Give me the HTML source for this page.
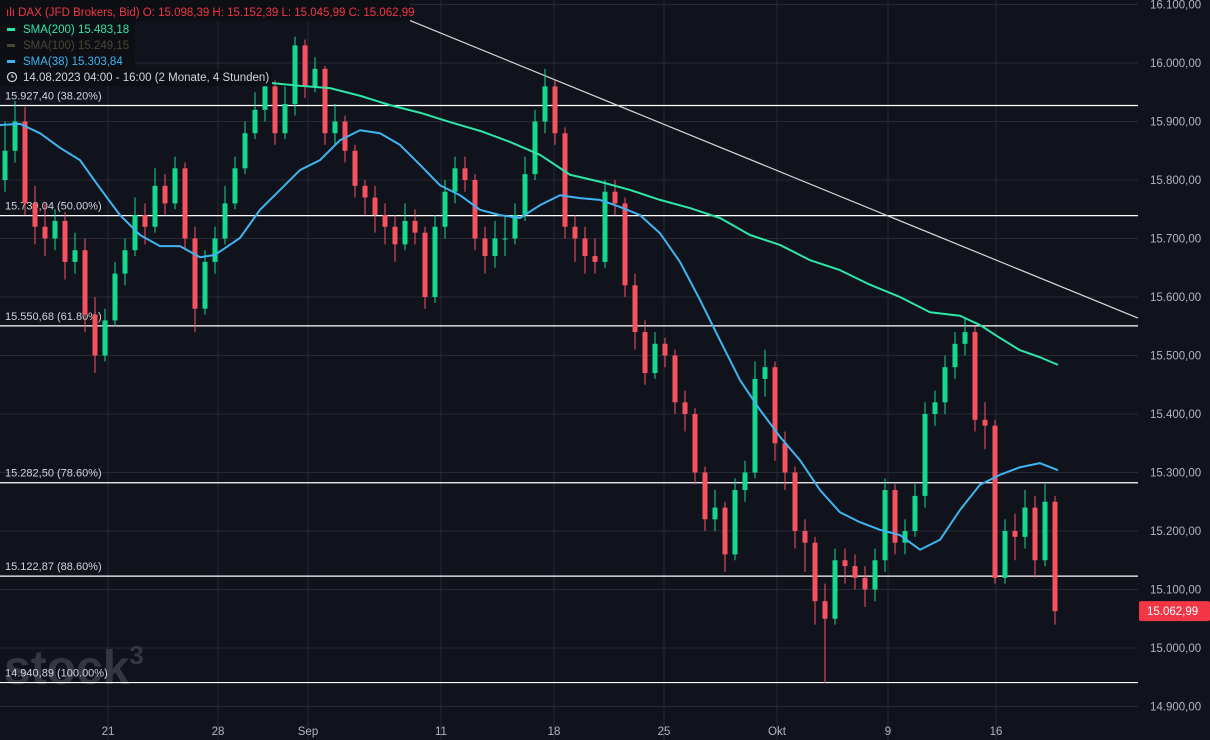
<!DOCTYPE html>
<html><head><meta charset="utf-8">
<style>
body{margin:0;background:#10131b;overflow:hidden}
svg{display:block;font-family:"Liberation Sans",sans-serif}
</style></head>
<body>
<svg id="c" width="1210" height="740" xmlns="http://www.w3.org/2000/svg">
<rect width="1210" height="740" fill="#10131b"/>
<g id="grid"></g>
<text x="4" y="684" font-size="48" fill="#34373f" font-weight="bold">stock<tspan font-size="26" dy="-20">3</tspan></text>
<g id="fib"></g>
<g id="marks"></g>
<g id="lines"></g>
<g id="axis"></g>
<g font-size="11.5">
<rect x="0" y="0" width="410" height="21" fill="#0d0f15"/>
<rect x="0" y="21" width="135" height="48" fill="#0d0f15"/>
<rect x="0" y="69" width="272" height="17" fill="#0d0f15"/>
<text x="6" y="16" fill="#f23645">ılı DAX (JFD Brokers, Bid)  O: 15.098,39  H: 15.152,39  L: 15.045,99  C: 15.062,99</text>
<rect x="7" y="28" width="8" height="3" fill="#2ee6a6"/>
<text x="23" y="33" fill="#2ee6a6">SMA(200)  15.483,18</text>
<rect x="7" y="44" width="8" height="3" fill="#4a4636"/>
<text x="23" y="49" fill="#4a4636">SMA(100)  15.249,15</text>
<rect x="7" y="60" width="8" height="3" fill="#3fb4f0"/>
<text x="23" y="65" fill="#3fb4f0">SMA(38)  15.303,84</text>
<circle cx="12" cy="77" r="4.5" fill="none" stroke="#d1d4dc" stroke-width="1.2"/>
<path d="M12 74.5V77h2" fill="none" stroke="#d1d4dc" stroke-width="1.1"/>
<text x="23" y="81" fill="#d1d4dc">14.08.2023 04:00 - 16:00   (2 Monate, 4 Stunden)</text>
</g>
</svg>
<script>
const closes=[15850,15900,15760,15720,15700,15730,15660,15680,15570,15500,15560,15640,15680,15740,15720,15790,15760,15820,15700,15580,15660,15700,15760,15820,15880,15920,15960,15880,15930,16030,15960,15990,15880,15900,15850,15790,15770,15740,15720,15690,15730,15710,15600,15720,15780,15820,15800,15700,15670,15700,15700,15740,15810,15900,15960,15880,15720,15700,15670,15660,15780,15760,15620,15540,15470,15520,15500,15420,15400,15300,15220,15240,15160,15270,15300,15460,15480,15350,15300,15200,15180,15080,15050,15150,15140,15120,15100,15150,15270,15180,15200,15260,15400,15420,15480,15520,15540,15390,15380,15120,15200,15190,15240,15150,15250,15063];
const highs=[15900,15935,15925,15790,15760,15750,15745,15710,15700,15600,15580,15660,15700,15770,15760,15820,15810,15840,15830,15720,15680,15720,15790,15840,15900,15950,15975,15970,15960,16045,16040,16010,15995,15930,15910,15860,15800,15790,15760,15740,15760,15750,15720,15740,15800,15840,15840,15810,15720,15730,15740,15760,15840,15920,15990,15970,15890,15740,15720,15700,15800,15800,15770,15640,15560,15540,15530,15510,15440,15410,15310,15270,15250,15290,15320,15490,15510,15490,15370,15310,15220,15190,15110,15170,15170,15160,15140,15170,15290,15280,15220,15280,15420,15440,15500,15540,15565,15550,15420,15390,15220,15230,15270,15260,15280,15260];
const lows=[15780,15830,15740,15690,15670,15680,15630,15640,15540,15470,15490,15550,15620,15670,15690,15710,15740,15750,15680,15540,15570,15640,15690,15750,15810,15870,15900,15860,15870,15910,15940,15950,15860,15860,15830,15770,15740,15710,15690,15660,15680,15690,15580,15590,15700,15760,15780,15680,15640,15650,15670,15690,15730,15800,15880,15860,15700,15660,15640,15640,15650,15740,15600,15510,15450,15460,15480,15400,15370,15280,15200,15200,15130,15150,15250,15290,15430,15320,15270,15170,15130,15040,14940,15040,15110,15100,15070,15080,15130,15160,15160,15190,15240,15380,15400,15460,15500,15370,15340,15110,15110,15150,15170,15120,15140,15040];
const sma38X=[0,20,40,60,80,100,120,140,160,180,200,215,240,260,280,300,320,340,360,380,400,420,440,460,480,500,520,540,560,580,600,620,640,660,680,700,720,740,760,780,800,820,840,860,880,900,920,940,960,980,1000,1020,1040,1058];
const sma38=[15894,15896,15880,15855,15834,15786,15740,15706,15687,15687,15668,15672,15701,15749,15783,15817,15834,15868,15885,15880,15860,15826,15791,15774,15749,15740,15735,15757,15774,15769,15766,15754,15740,15709,15660,15595,15526,15458,15407,15361,15321,15270,15232,15215,15202,15193,15168,15185,15236,15279,15296,15309,15316,15304];
const sma200X=[270,300,330,360,390,420,450,480,510,540,570,600,630,660,690,720,750,780,810,840,870,900,930,960,980,1000,1020,1040,1058];
const sma200=[15966,15961,15957,15944,15928,15915,15899,15884,15865,15843,15809,15797,15783,15766,15752,15735,15706,15689,15663,15646,15621,15600,15574,15568,15552,15530,15509,15497,15484];
const fibLevels=[15927.40,15739.04,15550.68,15282.50,15122.87,14940.89];
const fibLabels=["15.927,40 (38.20%)","15.739,04 (50.00%)","15.550,68 (61.80%)","15.282,50 (78.60%)","15.122,87 (88.60%)","14.940,89 (100.00%)"];
const priceTicks=[16100,16000,15900,15800,15700,15600,15500,15400,15300,15200,15100,15000,14900];
const priceTickLabels=["16.100,00","16.000,00","15.900,00","15.800,00","15.700,00","15.600,00","15.500,00","15.400,00","15.300,00","15.200,00","15.100,00","15.000,00","14.900,00"];
const dateTickX=[108,218,308,441,554,664,777,888,996];
const dateTickLabels=["21","28","Sep","11","18","25","Okt","9","16"];
const trendStart=[16090,385], trendEnd=[15564,1138];
const lastPrice=15062.99, lastLabel="15.062,99";

const NS="http://www.w3.org/2000/svg";
const y=v=>648-(v-15000)*0.585;
const x=i=>5+i*10;
function mk(tag,attrs,parent){const e=document.createElementNS(NS,tag);for(const k in attrs)e.setAttribute(k,attrs[k]);parent.appendChild(e);return e;}
const grid=document.getElementById('grid'),fib=document.getElementById('fib'),marks=document.getElementById('marks'),lines=document.getElementById('lines'),axis=document.getElementById('axis');
priceTicks.forEach((p,i)=>{
 const l=mk('line',{x1:0,x2:1138,y1:y(p),y2:y(p),stroke:'#262a34','stroke-width':1},grid);
 
 
 const t=mk('text',{x:1150,y:y(p)+4,'font-size':11.5,fill:'#b2b5be'},axis);
 t.textContent=priceTickLabels[i];
 
 
});
dateTickX.forEach((dx,i)=>{
 const l=mk('line',{x1:dx,x2:dx,y1:0,y2:740,stroke:'#262a34','stroke-width':1},grid);
 
 
 const t=mk('text',{x:dx,y:735,'font-size':11.5,fill:'#b2b5be','text-anchor':'middle'},axis);
 t.textContent=dateTickLabels[i];
 
 
});
fibLevels.forEach((f,i)=>{
 const l=mk('line',{x1:0,x2:1138,y1:y(f),y2:y(f),stroke:'#ffffff','stroke-width':1.2},fib);
 
 
 const t=mk('text',{x:5,y:y(f)-6,'font-size':11,fill:'#d1d4dc'},fib);
 t.textContent=fibLabels[i];
 
 
});
const tl=mk('line',{x1:trendStart[1],y1:y(trendStart[0]),x2:trendEnd[1],y2:y(trendEnd[0]),stroke:'#d8d8d8','stroke-width':1.2},fib);


closes.forEach((c,i)=>{
 const o=i===0?15800:closes[i-1];
 const up=c>=o,col=up?'#13d98f':'#f7525f';
 const g=mk('g',{},marks);
 
 
 mk('line',{x1:x(i),x2:x(i),y1:y(highs[i]),y2:y(lows[i]),stroke:col,'stroke-width':1},g);
 const top=y(Math.max(o,c)),bot=y(Math.min(o,c));
 mk('rect',{x:x(i)-2.5,y:top,width:5,height:Math.max(1,bot-top),fill:col},g);
});
function poly(xs,vs,col,name){
 const p=mk('polyline',{points:xs.map((px,i)=>px+','+y(vs[i])).join(' '),fill:'none',stroke:col,'stroke-width':2,'stroke-linejoin':'round'},lines);
 
 
}
poly(sma200X,sma200,'#2ee6a6','sma200-line');
poly(sma38X,sma38,'#3fb4f0','sma38-line');
const tag=mk('rect',{x:1139,y:y(lastPrice)-10,width:71,height:20,rx:2,fill:'#f23645'},axis);


const tt=mk('text',{x:1147,y:y(lastPrice)+4,'font-size':11.5,fill:'#ffffff'},axis);
tt.textContent=lastLabel;


</script>
</body></html>
